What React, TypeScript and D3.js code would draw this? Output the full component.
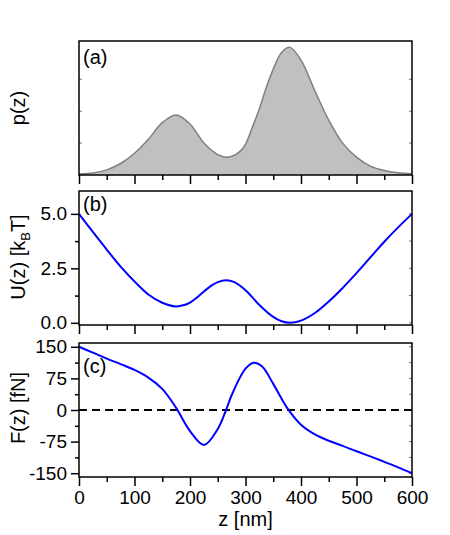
import React, { useEffect, useRef } from "react";
import * as d3 from "d3";

// z positions [nm] and values
const zP = [0, 25, 50, 75, 100, 125, 150, 175, 200, 212, 225, 240, 250, 265, 280, 290, 300, 312, 325, 337, 350, 365, 380, 400, 425, 450, 475, 500, 525, 550, 575, 600];
const pVals = [0.007, 0.015, 0.04, 0.09, 0.17, 0.28, 0.41, 0.47, 0.4, 0.33, 0.25, 0.19, 0.16, 0.14, 0.155, 0.185, 0.24, 0.37, 0.52, 0.68, 0.83, 0.96, 1.0, 0.9, 0.66, 0.43, 0.25, 0.14, 0.07, 0.035, 0.017, 0.01];

const zU = [0, 25, 50, 75, 100, 125, 150, 175, 190, 200, 212, 225, 240, 250, 265, 280, 300, 325, 350, 365, 380, 400, 425, 450, 475, 500, 525, 550, 575, 600];
const uVals = [5.0, 4.17, 3.36, 2.58, 1.9, 1.3, 0.92, 0.75, 0.82, 0.93, 1.15, 1.44, 1.73, 1.87, 1.95, 1.87, 1.5, 0.82, 0.27, 0.07, 0.0, 0.1, 0.45, 0.98, 1.6, 2.28, 3.0, 3.72, 4.38, 5.0];

const zF = [0, 25, 50, 75, 100, 125, 150, 175, 200, 225, 250, 265, 275, 300, 315, 330, 350, 375, 400, 425, 450, 475, 500, 525, 550, 575, 600];
const fVals = [150, 136, 122, 109, 95, 77, 50, 5, -50, -83, -45, 0, 35, 98, 112, 103, 62, 5, -35, -58, -73, -85, -98, -110, -123, -136, -150];

const xMajor = [0, 100, 200, 300, 400, 500, 600];
const xMinor = [50, 150, 250, 350, 450, 550];
const uMajor = [0, 2.5, 5];
const uMinor = [1.25, 3.75];
const fMajor = [-150, -75, 0, 75, 150];
const fMinor = [-112.5, -37.5, 37.5, 112.5];
const pMinor = [0.25, 0.5, 0.75];

const FONT = "'Liberation Sans', Arial, sans-serif";

const App = () => {
  const svgRef = useRef<SVGSVGElement>(null);

  useEffect(() => {
    const svg = d3.select(svgRef.current);
    svg.selectAll("*").remove();

    const left = 79;
    const right = 412;
    const x = d3.scaleLinear().domain([0, 600]).range([left, right]);
    const yP = d3.scaleLinear().domain([0, 1.05]).range([175, 41]);
    const yU = d3.scaleLinear().domain([-0.1, 6.05]).range([325, 191]);
    const yF = d3.scaleLinear().domain([-159, 159]).range([477, 343]);
    const curve = d3.curveCatmullRom.alpha(0.5);

    const styleAxis = (g, size = 19) => {
      g.select(".domain").remove();
      g.selectAll("line").attr("stroke", "#000").attr("stroke-width", 1.5);
      g.selectAll("text")
        .attr("font-family", FONT)
        .attr("font-size", size)
        .attr("fill", "#000");
    };

    const panels = [
      { y: yP, top: 41, bottom: 175 },
      { y: yU, top: 191, bottom: 325 },
      { y: yF, top: 343, bottom: 477 },
    ];

    panels.forEach((p, i) => {
      // x ticks at bottom
      const xa = svg
        .append("g")
        .attr("transform", `translate(0,${p.bottom})`)
        .call(
          d3
            .axisBottom(x)
            .tickValues(xMajor)
            .tickSize(9)
            .tickPadding(5)
            .tickFormat(i === 2 ? (d) => String(d) : () => "")
        );
      styleAxis(xa);
      const xm = svg
        .append("g")
        .attr("transform", `translate(0,${p.bottom})`)
        .call(d3.axisBottom(x).tickValues(xMinor).tickSize(5).tickFormat(() => ""));
      styleAxis(xm);
    });

    // y axes
    const ua = svg
      .append("g")
      .attr("transform", `translate(${left},0)`)
      .call(d3.axisLeft(yU).tickValues(uMajor).tickSize(8).tickPadding(4).tickFormat(d3.format(".1f")));
    styleAxis(ua);
    const um = svg
      .append("g")
      .attr("transform", `translate(${left},0)`)
      .call(d3.axisLeft(yU).tickValues(uMinor).tickSize(4).tickFormat(() => ""));
    styleAxis(um);

    const fa = svg
      .append("g")
      .attr("transform", `translate(${left},0)`)
      .call(d3.axisLeft(yF).tickValues(fMajor).tickSize(8).tickPadding(4).tickFormat((d) => String(d)));
    styleAxis(fa);
    const fm = svg
      .append("g")
      .attr("transform", `translate(${left},0)`)
      .call(d3.axisLeft(yF).tickValues(fMinor).tickSize(4).tickFormat(() => ""));
    styleAxis(fm);

    // faint inner ticks on the right and on p(z) panel
    const innerTicks = [
      { y: yP, vals: pMinor, side: "both" },
      { y: yU, vals: [...uMajor, ...uMinor], side: "right" },
      { y: yF, vals: [...fMajor, ...fMinor], side: "right" },
    ];
    innerTicks.forEach((t) => {
      const g = svg.append("g");
      g.selectAll("line.r")
        .data(t.vals)
        .enter()
        .append("line")
        .attr("x1", right)
        .attr("x2", right - 3)
        .attr("y1", (d) => t.y(d))
        .attr("y2", (d) => t.y(d))
        .attr("stroke", "#777")
        .attr("stroke-width", 1);
      if (t.side === "both") {
        g.selectAll("line.l")
          .data(t.vals)
          .enter()
          .append("line")
          .attr("x1", left)
          .attr("x2", left + 3)
          .attr("y1", (d) => t.y(d))
          .attr("y2", (d) => t.y(d))
          .attr("stroke", "#777")
          .attr("stroke-width", 1);
      }
    });

    // (a) p(z) area
    const pData = zP.map((z, i) => ({ z, v: pVals[i] }));
    const area = d3
      .area<any>()
      .x((d) => x(d.z))
      .y0(yP(0))
      .y1((d) => yP(d.v))
      .curve(curve);
    const pLine = d3
      .line<any>()
      .x((d) => x(d.z))
      .y((d) => yP(d.v))
      .curve(curve);
    svg.append("path").datum(pData).attr("d", area).attr("fill", "#c0c0c0");
    svg
      .append("path")
      .datum(pData)
      .attr("d", pLine)
      .attr("fill", "none")
      .attr("stroke", "#808080")
      .attr("stroke-width", 1.5);

    // (b) U(z)
    const uData = zU.map((z, i) => ({ z, v: uVals[i] }));
    svg
      .append("path")
      .datum(uData)
      .attr(
        "d",
        d3
          .line<any>()
          .x((d) => x(d.z))
          .y((d) => yU(d.v))
          .curve(curve)
      )
      .attr("fill", "none")
      .attr("stroke", "#0000ff")
      .attr("stroke-width", 2);

    // (c) F(z) with zero line
    svg
      .append("line")
      .attr("x1", left)
      .attr("x2", right)
      .attr("y1", yF(0))
      .attr("y2", yF(0))
      .attr("stroke", "#000")
      .attr("stroke-width", 1.8)
      .attr("stroke-dasharray", "8,5");
    const fData = zF.map((z, i) => ({ z, v: fVals[i] }));
    svg
      .append("path")
      .datum(fData)
      .attr(
        "d",
        d3
          .line<any>()
          .x((d) => x(d.z))
          .y((d) => yF(d.v))
          .curve(curve)
      )
      .attr("fill", "none")
      .attr("stroke", "#0000ff")
      .attr("stroke-width", 2);

    // frames
    panels.forEach((p) => {
      svg
        .append("rect")
        .attr("x", left)
        .attr("y", p.top)
        .attr("width", right - left)
        .attr("height", p.bottom - p.top)
        .attr("fill", "none")
        .attr("stroke", "#000")
        .attr("stroke-width", 1.5);
    });

    // panel letters
    const letters = [
      { t: "(a)", y: 64 },
      { t: "(b)", y: 211 },
      { t: "(c)", y: 373 },
    ];
    svg
      .selectAll(".letter")
      .data(letters)
      .enter()
      .append("text")
      .attr("x", 83)
      .attr("y", (d) => d.y)
      .attr("font-family", FONT)
      .attr("font-size", 20)
      .text((d) => d.t);

    // axis titles
    const yTitle = (cy) =>
      svg
        .append("text")
        .attr("transform", `translate(25,${cy}) rotate(-90)`)
        .attr("text-anchor", "middle")
        .attr("font-family", FONT)
        .attr("font-size", 20);
    yTitle(108).text("p(z)");
    const ut = yTitle(257);
    ut.append("tspan").text("U(z) [k");
    ut.append("tspan").attr("font-size", 13).attr("dy", 5).text("B");
    ut.append("tspan").attr("dy", -5).text("T]");
    yTitle(408).text("F(z) [fN]");

    svg
      .append("text")
      .attr("x", (left + right) / 2)
      .attr("y", 526)
      .attr("text-anchor", "middle")
      .attr("font-family", FONT)
      .attr("font-size", 20)
      .text("z [nm]");
  }, []);

  return (
    <svg
      ref={svgRef}
      width={450}
      height={535}
      style={{ position: "absolute", left: 0, top: 0, background: "#fff" }}
    ></svg>
  );
};

export default App;
